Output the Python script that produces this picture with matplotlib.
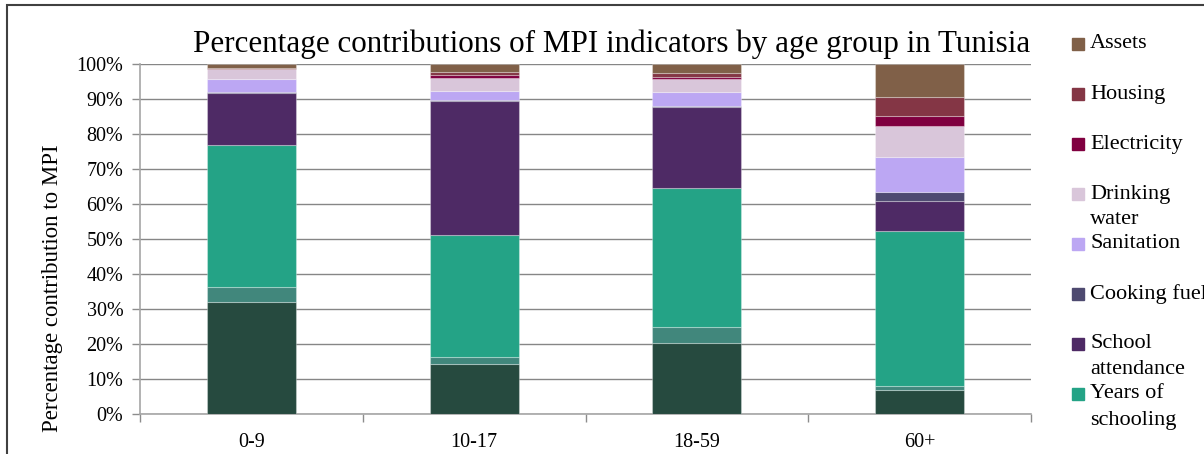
import matplotlib
matplotlib.use("Agg")
import matplotlib.pyplot as plt
from matplotlib.patches import Rectangle
import numpy as np

# data (percent contribution to MPI)
age_groups = ["0-9", "10-17", "18-59", "60+"]
indicators = ["Nutrition", "Child mortality", "Years of schooling", "School attendance",
              "Cooking fuel", "Sanitation", "Drinking water", "Electricity", "Housing", "Assets"]
nutrition = [32.1, 14.2, 20.4, 6.9]
child_mortality = [4.1, 2.1, 4.4, 1.0]
years_schooling = [40.6, 34.8, 39.9, 44.4]
school_attendance = [15.0, 38.4, 23.1, 8.7]
cooking_fuel = [0.1, 0.1, 0.1, 2.5]
sanitation = [3.9, 2.8, 4.1, 10.0]
drinking_water = [2.8, 3.5, 3.7, 8.9]
electricity = [0.1, 0.9, 0.5, 2.8]
housing = [0.2, 0.9, 1.3, 5.5]
assets = [1.1, 2.3, 2.5, 9.3]

colors = ["#264a3f", "#41877c", "#24a386", "#4e2a65", "#4e4a70",
          "#bca7f3", "#d9c6da", "#800040", "#843645", "#806048"]

series = [nutrition, child_mortality, years_schooling, school_attendance, cooking_fuel,
          sanitation, drinking_water, electricity, housing, assets]

# legend labels as they appear (two lines for some)
legend_labels = {"Assets": "Assets", "Housing": "Housing", "Electricity": "Electricity",
                 "Drinking water": "Drinking\nwater", "Sanitation": "Sanitation",
                 "Cooking fuel": "Cooking fuel", "School attendance": "School\nattendance",
                 "Years of schooling": "Years of\nschooling"}

plt.rcParams['font.family'] = ['Liberation Serif', 'DejaVu Serif']

W, H = 1204, 454
fig = plt.figure(figsize=(W / 100, H / 100), dpi=100)
ax = fig.add_axes([140 / W, 40 / H, 891 / W, 350 / H])

x = np.arange(len(age_groups))
bottom = np.zeros(len(age_groups))
for name, vals, col in zip(indicators, series, colors):
    vals = np.array(vals)
    ax.bar(x, vals, 0.4, bottom=bottom, color=col, edgecolor=(1, 1, 1, 0.3),
           linewidth=0.8, label=name, zorder=3)
    bottom += vals

ax.set_xlim(-0.5, len(age_groups) - 0.5)
ax.set_ylim(0, 100)
ax.set_yticks(np.arange(0, 101, 10))
ax.set_yticklabels([f"{v}%" for v in range(0, 101, 10)], fontsize=14.5)
ax.set_xticks(x)
ax.set_xticklabels(age_groups, fontsize=14.5)
ax.set_xticks(np.arange(-0.5, len(age_groups)), minor=True)
ax.tick_params(axis='x', which='major', length=0, pad=14)
ax.tick_params(axis='x', which='minor', length=6, color='#8c8c8c', width=1)
ax.tick_params(axis='y', length=6, color='#8c8c8c', width=1, pad=6)
ax.grid(axis='y', color='#868686', linewidth=1, zorder=0)
for s in ['top', 'right']:
    ax.spines[s].set_visible(False)
for s in ['left', 'bottom']:
    ax.spines[s].set_color('#a6a6a6')
    ax.spines[s].set_linewidth(1.2)

fig.text(612 / W, 1 - 44 / H, "Percentage contributions of MPI indicators by age group in Tunisia",
         ha='center', va='center', fontsize=22.4)
fig.text(53 / W, 1 - 288 / H, "Percentage contribution to MPI", rotation=90,
         ha='center', va='center', fontsize=16.5)

# legend on the right, drawn like the Excel one (top entry = last series)
ys = [44, 94, 144, 194, 244, 294, 344, 394]
leg_names = indicators[::-1][:8]
for yy, name in zip(ys, leg_names):
    col = colors[indicators.index(name)]
    fig.patches.append(Rectangle((1072 / W, 1 - (yy + 6) / H), 12 / W, 12 / H,
                                 transform=fig.transFigure, color=col))
    lines = legend_labels[name].split("\n")
    for i, ln in enumerate(lines):
        fig.text(1090 / W, 1 - (yy + 26 * i) / H, ln, ha='left', va='center', fontsize=16)

# chart border
fig.patches.append(Rectangle((7 / W, -0.2), 2, 1.2 - 5.5 / H, transform=fig.transFigure,
                             fill=False, edgecolor='#404040', linewidth=1.5))

fig.savefig("out.png", dpi=100)
